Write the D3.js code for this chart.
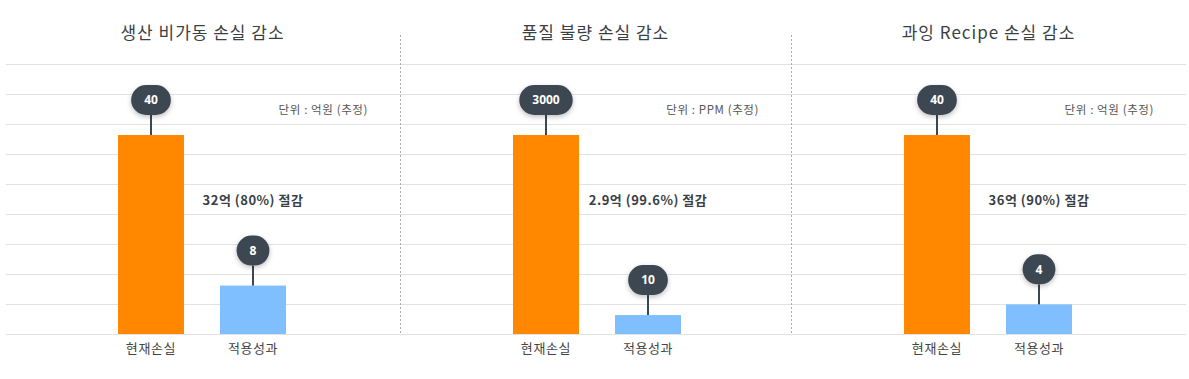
<!DOCTYPE html>
<html>
<head>
<meta charset="utf-8">
<script src="https://cdn.jsdelivr.net/npm/d3@7"></script>
<style>
  body { margin: 0; background: #fff; }
  text { font-family: "Noto Sans CJK KR", "Noto Sans", sans-serif; }
</style>
</head>
<body>
<div id="container"></div>
<script>
const titles = ["생산 비가동 손실 감소", "품질 불량 손실 감소", "과잉 Recipe 손실 감소"];
const categories = ["현재손실", "적용성과"];
const currentLoss = [40, 3000, 40];
const appliedResult = [8, 10, 4];
const units = ["단위 : 억원 (추정)", "단위 : PPM (추정)", "단위 : 억원 (추정)"];
const savings = ["32억 (80%) 절감", "2.9억 (99.6%) 절감", "36억 (90%) 절감"];
// bars in the picture do not start from zero, floor of each y axis
const axisFloor = [-2.3, -305, -2.3];

const width = 1189, height = 379;
const panelEdges = [5, 400, 791, 1186];
const baseY = 334, topY = 135;
const gridTicks = d3.range(0, 10);

const svg = d3.select("#container").append("svg")
    .attr("width", width)
    .attr("height", height);

const defs = svg.append("defs");
const shadow = defs.append("filter")
    .attr("id", "shadow")
    .attr("x", "-50%").attr("y", "-50%")
    .attr("width", "200%").attr("height", "200%");
shadow.append("feDropShadow")
    .attr("dx", 0).attr("dy", 2)
    .attr("stdDeviation", 2.5)
    .attr("flood-color", "#000")
    .attr("flood-opacity", 0.25);

// background grid
const gridY = d3.scaleLinear().domain([0, 9]).range([64, baseY]);
svg.append("g")
    .selectAll("line")
    .data(gridTicks)
    .enter().append("line")
    .attr("x1", 6)
    .attr("x2", 1186)
    .attr("y1", d => gridY(d) + 0.5)
    .attr("y2", d => gridY(d) + 0.5)
    .style("stroke", "#e2e2e2")
    .style("stroke-width", 1);

// dotted dividers
svg.append("g")
    .selectAll("line")
    .data([panelEdges[1], panelEdges[2]])
    .enter().append("line")
    .attr("x1", d => d + 0.5)
    .attr("x2", d => d + 0.5)
    .attr("y1", 35)
    .attr("y2", baseY + 1)
    .style("stroke", "#aaa")
    .style("stroke-dasharray", "2,2");

titles.forEach(function(title, i) {
    const left = panelEdges[i];
    const right = panelEdges[i + 1];
    const values = [currentLoss[i], appliedResult[i]];

    const x = d3.scaleBand()
        .domain(categories)
        .range([left + 62, left + 332])
        .paddingInner(0.353)
        .paddingOuter(0.5);

    const y = d3.scaleLinear()
        .domain([axisFloor[i], currentLoss[i]])
        .range([baseY, topY]);

    const g = svg.append("g");

    g.append("text")
        .attr("x", (left + right) / 2)
        .attr("y", 39)
        .attr("text-anchor", "middle")
        .style("font-size", "17px")
        .style("letter-spacing", "1px")
        .style("fill", "#3a3f45")
        .text(title);

    g.append("text")
        .attr("x", right - 32)
        .attr("y", 114)
        .attr("text-anchor", "end")
        .style("font-size", "11.5px")
        .style("letter-spacing", "0.6px")
        .style("fill", "#555")
        .text(units[i]);

    g.selectAll("rect.bar")
        .data(values)
        .enter().append("rect")
        .attr("class", "bar")
        .attr("x", (d, j) => x(categories[j]))
        .attr("width", x.bandwidth())
        .attr("y", d => y(d))
        .attr("height", d => baseY - y(d))
        .attr("fill", (d, j) => j === 0 ? "#ff8800" : "#80bfff");

    const axis = g.append("g")
        .attr("transform", "translate(0," + baseY + ")")
        .call(d3.axisBottom(x).tickSize(0).tickPadding(10));
    axis.select(".domain").remove();
    axis.selectAll("text")
        .style("font-family", '"Noto Sans CJK KR", sans-serif')
        .style("font-size", "13px")
        .style("letter-spacing", "0.6px")
        .style("fill", "#444");

    g.append("text")
        .attr("x", x(categories[1]) + x.bandwidth() / 2)
        .attr("y", 205)
        .attr("text-anchor", "middle")
        .style("font-size", "13px")
        .style("font-weight", "600")
        .style("letter-spacing", "0.5px")
        .style("fill", "#3a3f45")
        .text(savings[i]);

    // value bubbles with stems
    const bubble = g.selectAll("g.bubble")
        .data(values)
        .enter().append("g")
        .attr("class", "bubble")
        .attr("transform", (d, j) =>
            "translate(" + (x(categories[j]) + x.bandwidth() / 2) + "," + y(d) + ")");

    bubble.append("line")
        .attr("x1", 0).attr("x2", 0)
        .attr("y1", -20).attr("y2", 0)
        .style("stroke", "#3d4651")
        .style("stroke-width", 2);

    bubble.each(function(d) {
        const b = d3.select(this);
        const label = b.append("text")
            .attr("x", 0)
            .attr("y", -35)
            .attr("dy", "0.35em")
            .attr("text-anchor", "middle")
            .style("font-family", '"Open Sans", "Noto Sans", sans-serif')
            .style("font-size", "12px")
            .style("font-weight", "bold")
            .style("fill", "#fff")
            .text(d);
        const w = Math.max(label.node().getComputedTextLength() + 26, 32);
        b.insert("rect", "text")
            .attr("x", -w / 2)
            .attr("y", -50)
            .attr("width", w)
            .attr("height", 30)
            .attr("rx", 15)
            .attr("fill", "#3d4651")
            .attr("filter", "url(#shadow)");
    });
});
</script>
</body>
</html>
